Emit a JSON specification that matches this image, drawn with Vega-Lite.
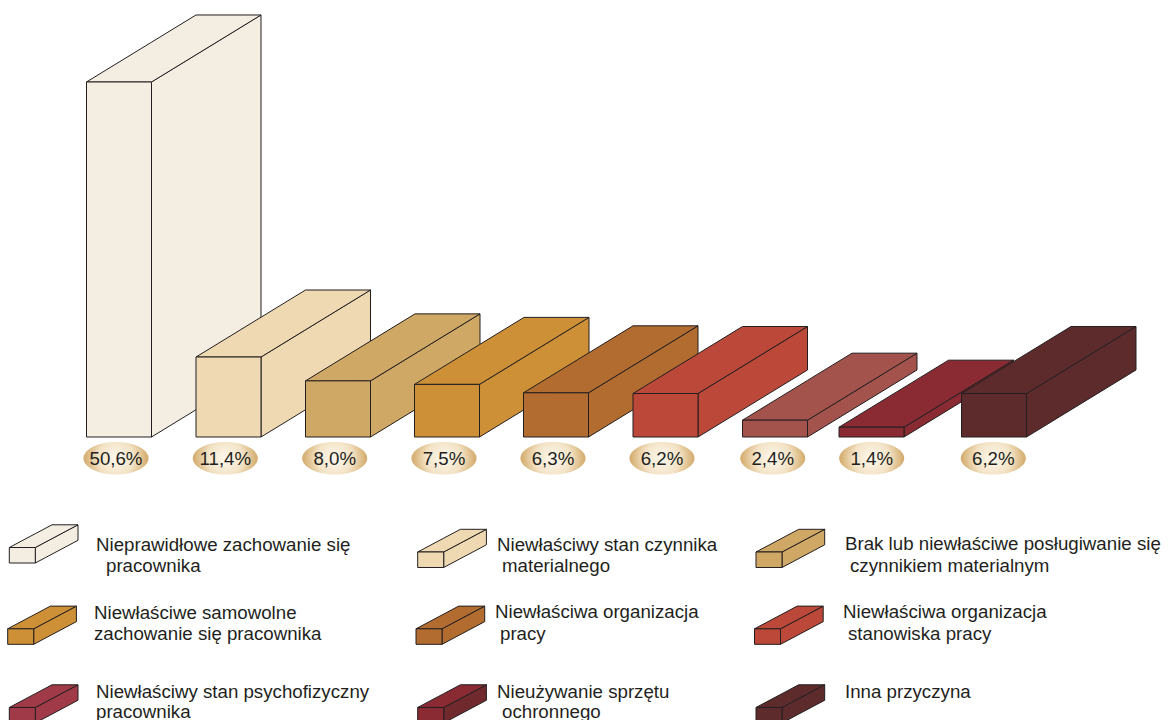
{
"$schema":"https://vega.github.io/schema/vega-lite/v6.json",
"width":1173,"height":720,"padding":0,"autosize":{"type":"none"},"background":"white",
"config":{"view":{"stroke":null}},
"datasets":{
"sides":[
{"id":"b1","cause":"Nieprawidłowe zachowanie","x":151.5,"y":50.6,"y2":0},{"id":"b1","cause":"Nieprawidłowe zachowanie","x":261,"y":60.15,"y2":9.55},
{"id":"b2","cause":"Stan czynnika","x":261,"y":11.4,"y2":0},{"id":"b2","cause":"Stan czynnika","x":370.5,"y":20.95,"y2":9.55},
{"id":"b3","cause":"Posługiwanie się czynnikiem","x":370.5,"y":8.0,"y2":0},{"id":"b3","cause":"Posługiwanie się czynnikiem","x":480,"y":17.55,"y2":9.55},
{"id":"b4","cause":"Samowolne zachowanie","x":479.5,"y":7.5,"y2":0},{"id":"b4","cause":"Samowolne zachowanie","x":589,"y":17.05,"y2":9.55},
{"id":"b5","cause":"Organizacja pracy","x":588.5,"y":6.3,"y2":0},{"id":"b5","cause":"Organizacja pracy","x":698,"y":15.85,"y2":9.55},
{"id":"b6","cause":"Organizacja stanowiska","x":698,"y":6.2,"y2":0},{"id":"b6","cause":"Organizacja stanowiska","x":807.5,"y":15.75,"y2":9.55},
{"id":"b7","cause":"Stan psychofizyczny","x":807.5,"y":2.4,"y2":0},{"id":"b7","cause":"Stan psychofizyczny","x":917,"y":11.95,"y2":9.55},
{"id":"b8","cause":"Nieużywanie sprzętu","x":904,"y":1.4,"y2":0},{"id":"b8","cause":"Nieużywanie sprzętu","x":1013.5,"y":10.95,"y2":9.55},
{"id":"b9","cause":"Inna przyczyna","x":1026.5,"y":6.2,"y2":0},{"id":"b9","cause":"Inna przyczyna","x":1136,"y":15.75,"y2":9.55},
{"id":"s1","cause":"Nieprawidłowe zachowanie","x":35.3,"y":-15.75,"y2":-17.96},{"id":"s1","cause":"Nieprawidłowe zachowanie","x":78,"y":-12.515,"y2":-14.725},
{"id":"s2","cause":"Stan czynnika","x":443.7,"y":-16.39,"y2":-18.6},{"id":"s2","cause":"Stan czynnika","x":486.4,"y":-13.155,"y2":-15.365},
{"id":"s3","cause":"Posługiwanie się czynnikiem","x":782,"y":-16.39,"y2":-18.6},{"id":"s3","cause":"Posługiwanie się czynnikiem","x":824.7,"y":-13.155,"y2":-15.365},
{"id":"s4","cause":"Samowolne zachowanie","x":33.7,"y":-27.34,"y2":-29.55},{"id":"s4","cause":"Samowolne zachowanie","x":76.4,"y":-24.105,"y2":-26.315},
{"id":"s5","cause":"Organizacja pracy","x":442,"y":-27.34,"y2":-29.55},{"id":"s5","cause":"Organizacja pracy","x":484.7,"y":-24.105,"y2":-26.315},
{"id":"s6","cause":"Organizacja stanowiska","x":780.5,"y":-27.34,"y2":-29.55},{"id":"s6","cause":"Organizacja stanowiska","x":823.2,"y":-24.105,"y2":-26.315},
{"id":"s7","cause":"Stan psychofizyczny, legenda","x":35.3,"y":-38.55,"y2":-40.76},{"id":"s7","cause":"Stan psychofizyczny, legenda","x":78,"y":-35.315,"y2":-37.525},
{"id":"s8","cause":"Nieużywanie sprzętu, bok","x":443.7,"y":-38.55,"y2":-40.76},{"id":"s8","cause":"Nieużywanie sprzętu, bok","x":486.4,"y":-35.315,"y2":-37.525},
{"id":"s9","cause":"Inna przyczyna","x":782,"y":-38.55,"y2":-40.76},{"id":"s9","cause":"Inna przyczyna","x":824.7,"y":-35.315,"y2":-37.525}
],
"tops":[
{"id":"b1","cause":"Nieprawidłowe zachowanie","x":86.5,"y":50.6,"y2":50.6},{"id":"b1","cause":"Nieprawidłowe zachowanie","x":151.5,"y":56.27,"y2":50.6},{"id":"b1","cause":"Nieprawidłowe zachowanie","x":196,"y":60.15,"y2":54.48},{"id":"b1","cause":"Nieprawidłowe zachowanie","x":261,"y":60.15,"y2":60.15},
{"id":"b2","cause":"Stan czynnika","x":196,"y":11.4,"y2":11.4},{"id":"b2","cause":"Stan czynnika","x":261,"y":17.07,"y2":11.4},{"id":"b2","cause":"Stan czynnika","x":305.5,"y":20.95,"y2":15.28},{"id":"b2","cause":"Stan czynnika","x":370.5,"y":20.95,"y2":20.95},
{"id":"b3","cause":"Posługiwanie się czynnikiem","x":305.5,"y":8.0,"y2":8.0},{"id":"b3","cause":"Posługiwanie się czynnikiem","x":370.5,"y":13.67,"y2":8.0},{"id":"b3","cause":"Posługiwanie się czynnikiem","x":415,"y":17.55,"y2":11.88},{"id":"b3","cause":"Posługiwanie się czynnikiem","x":480,"y":17.55,"y2":17.55},
{"id":"b4","cause":"Samowolne zachowanie","x":414.5,"y":7.5,"y2":7.5},{"id":"b4","cause":"Samowolne zachowanie","x":479.5,"y":13.17,"y2":7.5},{"id":"b4","cause":"Samowolne zachowanie","x":524,"y":17.05,"y2":11.38},{"id":"b4","cause":"Samowolne zachowanie","x":589,"y":17.05,"y2":17.05},
{"id":"b5","cause":"Organizacja pracy","x":523.5,"y":6.3,"y2":6.3},{"id":"b5","cause":"Organizacja pracy","x":588.5,"y":11.97,"y2":6.3},{"id":"b5","cause":"Organizacja pracy","x":633,"y":15.85,"y2":10.18},{"id":"b5","cause":"Organizacja pracy","x":698,"y":15.85,"y2":15.85},
{"id":"b6","cause":"Organizacja stanowiska","x":633,"y":6.2,"y2":6.2},{"id":"b6","cause":"Organizacja stanowiska","x":698,"y":11.87,"y2":6.2},{"id":"b6","cause":"Organizacja stanowiska","x":742.5,"y":15.75,"y2":10.08},{"id":"b6","cause":"Organizacja stanowiska","x":807.5,"y":15.75,"y2":15.75},
{"id":"b7","cause":"Stan psychofizyczny","x":742.5,"y":2.4,"y2":2.4},{"id":"b7","cause":"Stan psychofizyczny","x":807.5,"y":8.07,"y2":2.4},{"id":"b7","cause":"Stan psychofizyczny","x":852,"y":11.95,"y2":6.28},{"id":"b7","cause":"Stan psychofizyczny","x":917,"y":11.95,"y2":11.95},
{"id":"b8","cause":"Nieużywanie sprzętu","x":839,"y":1.4,"y2":1.4},{"id":"b8","cause":"Nieużywanie sprzętu","x":904,"y":7.07,"y2":1.4},{"id":"b8","cause":"Nieużywanie sprzętu","x":948.5,"y":10.95,"y2":5.28},{"id":"b8","cause":"Nieużywanie sprzętu","x":1013.5,"y":10.95,"y2":10.95},
{"id":"b9","cause":"Inna przyczyna","x":961.5,"y":6.2,"y2":6.2},{"id":"b9","cause":"Inna przyczyna","x":1026.5,"y":11.87,"y2":6.2},{"id":"b9","cause":"Inna przyczyna","x":1071,"y":15.75,"y2":10.08},{"id":"b9","cause":"Inna przyczyna","x":1136,"y":15.75,"y2":15.75},
{"id":"s1","cause":"Nieprawidłowe zachowanie","x":9.3,"y":-15.75,"y2":-15.75},{"id":"s1","cause":"Nieprawidłowe zachowanie","x":35.3,"y":-13.78,"y2":-15.75},{"id":"s1","cause":"Nieprawidłowe zachowanie","x":52,"y":-12.515,"y2":-14.485},{"id":"s1","cause":"Nieprawidłowe zachowanie","x":78,"y":-12.515,"y2":-12.515},
{"id":"s2","cause":"Stan czynnika","x":417.7,"y":-16.39,"y2":-16.39},{"id":"s2","cause":"Stan czynnika","x":443.7,"y":-14.42,"y2":-16.39},{"id":"s2","cause":"Stan czynnika","x":460.4,"y":-13.155,"y2":-15.125},{"id":"s2","cause":"Stan czynnika","x":486.4,"y":-13.155,"y2":-13.155},
{"id":"s3","cause":"Posługiwanie się czynnikiem","x":756,"y":-16.39,"y2":-16.39},{"id":"s3","cause":"Posługiwanie się czynnikiem","x":782,"y":-14.42,"y2":-16.39},{"id":"s3","cause":"Posługiwanie się czynnikiem","x":798.7,"y":-13.155,"y2":-15.125},{"id":"s3","cause":"Posługiwanie się czynnikiem","x":824.7,"y":-13.155,"y2":-13.155},
{"id":"s4","cause":"Samowolne zachowanie","x":7.7,"y":-27.34,"y2":-27.34},{"id":"s4","cause":"Samowolne zachowanie","x":33.7,"y":-25.37,"y2":-27.34},{"id":"s4","cause":"Samowolne zachowanie","x":50.4,"y":-24.105,"y2":-26.075},{"id":"s4","cause":"Samowolne zachowanie","x":76.4,"y":-24.105,"y2":-24.105},
{"id":"s5","cause":"Organizacja pracy","x":416,"y":-27.34,"y2":-27.34},{"id":"s5","cause":"Organizacja pracy","x":442,"y":-25.37,"y2":-27.34},{"id":"s5","cause":"Organizacja pracy","x":458.7,"y":-24.105,"y2":-26.075},{"id":"s5","cause":"Organizacja pracy","x":484.7,"y":-24.105,"y2":-24.105},
{"id":"s6","cause":"Organizacja stanowiska","x":754.5,"y":-27.34,"y2":-27.34},{"id":"s6","cause":"Organizacja stanowiska","x":780.5,"y":-25.37,"y2":-27.34},{"id":"s6","cause":"Organizacja stanowiska","x":797.2,"y":-24.105,"y2":-26.075},{"id":"s6","cause":"Organizacja stanowiska","x":823.2,"y":-24.105,"y2":-24.105},
{"id":"s7","cause":"Stan psychofizyczny, legenda","x":9.3,"y":-38.55,"y2":-38.55},{"id":"s7","cause":"Stan psychofizyczny, legenda","x":35.3,"y":-36.58,"y2":-38.55},{"id":"s7","cause":"Stan psychofizyczny, legenda","x":52,"y":-35.315,"y2":-37.285},{"id":"s7","cause":"Stan psychofizyczny, legenda","x":78,"y":-35.315,"y2":-35.315},
{"id":"s8","cause":"Nieużywanie sprzętu","x":417.7,"y":-38.55,"y2":-38.55},{"id":"s8","cause":"Nieużywanie sprzętu","x":443.7,"y":-36.58,"y2":-38.55},{"id":"s8","cause":"Nieużywanie sprzętu","x":460.4,"y":-35.315,"y2":-37.285},{"id":"s8","cause":"Nieużywanie sprzętu","x":486.4,"y":-35.315,"y2":-35.315},
{"id":"s9","cause":"Inna przyczyna","x":756,"y":-38.55,"y2":-38.55},{"id":"s9","cause":"Inna przyczyna","x":782,"y":-36.58,"y2":-38.55},{"id":"s9","cause":"Inna przyczyna","x":798.7,"y":-35.315,"y2":-37.285},{"id":"s9","cause":"Inna przyczyna","x":824.7,"y":-35.315,"y2":-35.315}
],
"fronts":[
{"cause":"Nieprawidłowe zachowanie","x":86.5,"x2":151.5,"y":50.6,"y2":0},
{"cause":"Stan czynnika","x":196,"x2":261,"y":11.4,"y2":0},
{"cause":"Posługiwanie się czynnikiem","x":305.5,"x2":370.5,"y":8.0,"y2":0},
{"cause":"Samowolne zachowanie","x":414.5,"x2":479.5,"y":7.5,"y2":0},
{"cause":"Organizacja pracy","x":523.5,"x2":588.5,"y":6.3,"y2":0},
{"cause":"Organizacja stanowiska","x":633,"x2":698,"y":6.2,"y2":0},
{"cause":"Stan psychofizyczny","x":742.5,"x2":807.5,"y":2.4,"y2":0},
{"cause":"Nieużywanie sprzętu","x":839,"x2":904,"y":1.4,"y2":0},
{"cause":"Inna przyczyna","x":961.5,"x2":1026.5,"y":6.2,"y2":0},
{"cause":"Nieprawidłowe zachowanie","x":9.3,"x2":35.3,"y":-15.75,"y2":-17.96},
{"cause":"Stan czynnika","x":417.7,"x2":443.7,"y":-16.39,"y2":-18.6},
{"cause":"Posługiwanie się czynnikiem","x":756,"x2":782,"y":-16.39,"y2":-18.6},
{"cause":"Samowolne zachowanie","x":7.7,"x2":33.7,"y":-27.34,"y2":-29.55},
{"cause":"Organizacja pracy","x":416,"x2":442,"y":-27.34,"y2":-29.55},
{"cause":"Organizacja stanowiska","x":754.5,"x2":780.5,"y":-27.34,"y2":-29.55},
{"cause":"Stan psychofizyczny, legenda","x":9.3,"x2":35.3,"y":-38.55,"y2":-40.76},
{"cause":"Nieużywanie sprzętu","x":417.7,"x2":443.7,"y":-38.55,"y2":-40.76},
{"cause":"Inna przyczyna","x":756,"x2":782,"y":-38.55,"y2":-40.76}
],
"pills":[
{"label":"50,6%","x":116,"y":-3.04},{"label":"11,4%","x":225.3,"y":-3.04},{"label":"8,0%","x":334.7,"y":-3.04},
{"label":"7,5%","x":444,"y":-3.04},{"label":"6,3%","x":553,"y":-3.04},{"label":"6,2%","x":662,"y":-3.04},
{"label":"2,4%","x":772.7,"y":-3.04},{"label":"1,4%","x":871.7,"y":-3.04},{"label":"6,2%","x":993.3,"y":-3.04}
],
"legendText":[
{"text":"Nieprawidłowe zachowanie się","x":96,"y":-15.39},{"text":"pracownika","x":106,"y":-18.39},
{"text":"Niewłaściwy stan czynnika","x":497,"y":-15.39},{"text":"materialnego","x":502,"y":-18.39},
{"text":"Brak lub niewłaściwe posługiwanie się","x":845,"y":-15.32},{"text":"czynnikiem materialnym","x":850,"y":-18.39},
{"text":"Niewłaściwe samowolne","x":94,"y":-25.09},{"text":"zachowanie się pracownika","x":94,"y":-28.08},
{"text":"Niewłaściwa organizacja","x":495,"y":-24.94},{"text":"pracy","x":500,"y":-28.08},
{"text":"Niewłaściwa organizacja","x":843,"y":-24.94},{"text":"stanowiska pracy","x":848,"y":-28.08},
{"text":"Niewłaściwy stan psychofizyczny","x":96,"y":-36.35},{"text":"pracownika","x":96,"y":-39.2},
{"text":"Nieużywanie sprzętu","x":497,"y":-36.35},{"text":"ochronnego","x":502,"y":-39.2},
{"text":"Inna przyczyna","x":845,"y":-36.35}
]
},
"encoding":{
"x":{"field":"x","type":"quantitative","scale":{"domain":[0,1173],"nice":false,"zero":false},"axis":null},
"y":{"field":"y","type":"quantitative","scale":{"domain":[-40.336,62.286],"nice":false,"zero":false},"axis":null,"stack":null}
},
"layer":[
{"data":{"name":"sides"},"mark":{"type":"area","stroke":"#231f20","strokeWidth":1,"clip":true,"opacity":1},
 "encoding":{"y2":{"field":"y2"},"detail":{"field":"id"},"fill":{"field":"cause","type":"nominal","legend":null,
 "scale":{"domain":["Nieprawidłowe zachowanie","Stan czynnika","Posługiwanie się czynnikiem","Samowolne zachowanie","Organizacja pracy","Organizacja stanowiska","Stan psychofizyczny","Stan psychofizyczny, legenda","Nieużywanie sprzętu","Nieużywanie sprzętu, bok","Inna przyczyna"],"range":["#f4eee2","#efd9b3","#cfa865","#cd9037","#b26c30","#bb4838","#a4524c","#a03a48","#8a2a32","#702a2e","#5e2b2d"]}}}},
{"data":{"name":"tops"},"mark":{"type":"area","stroke":"#231f20","strokeWidth":1,"clip":true,"opacity":1},
 "encoding":{"y2":{"field":"y2"},"detail":{"field":"id"},"fill":{"field":"cause","type":"nominal","legend":null}}},
{"data":{"name":"fronts"},"mark":{"type":"rect","stroke":"#231f20","strokeWidth":1,"clip":true,"opacity":1},
 "encoding":{"x2":{"field":"x2"},"y2":{"field":"y2"},"fill":{"field":"cause","type":"nominal","legend":null}}},
{"data":{"name":"pills"},"mark":{"type":"point","filled":true,"opacity":1,"size":4225,"shape":"M-1,0A1,0.5 0 1,1 1,0A1,0.5 0 1,1 -1,0Z",
 "fill":{"gradient":"radial","x1":0.5,"y1":0.5,"r1":0,"x2":0.5,"y2":0.5,"r2":0.5,"stops":[{"offset":0,"color":"#fdf8ee"},{"offset":0.55,"color":"#f3e3c6"},{"offset":1,"color":"#d2a968"}]}}},
{"data":{"name":"pills"},"mark":{"type":"text","font":"Liberation Sans","fontSize":18.7,"color":"#231f20","align":"center","baseline":"middle","dy":1},
 "encoding":{"text":{"field":"label"}}},
{"data":{"name":"legendText"},"mark":{"type":"text","font":"Liberation Sans","fontSize":18.7,"color":"#231f20","align":"left","baseline":"middle"},
 "encoding":{"text":{"field":"text"}}}
]
}
